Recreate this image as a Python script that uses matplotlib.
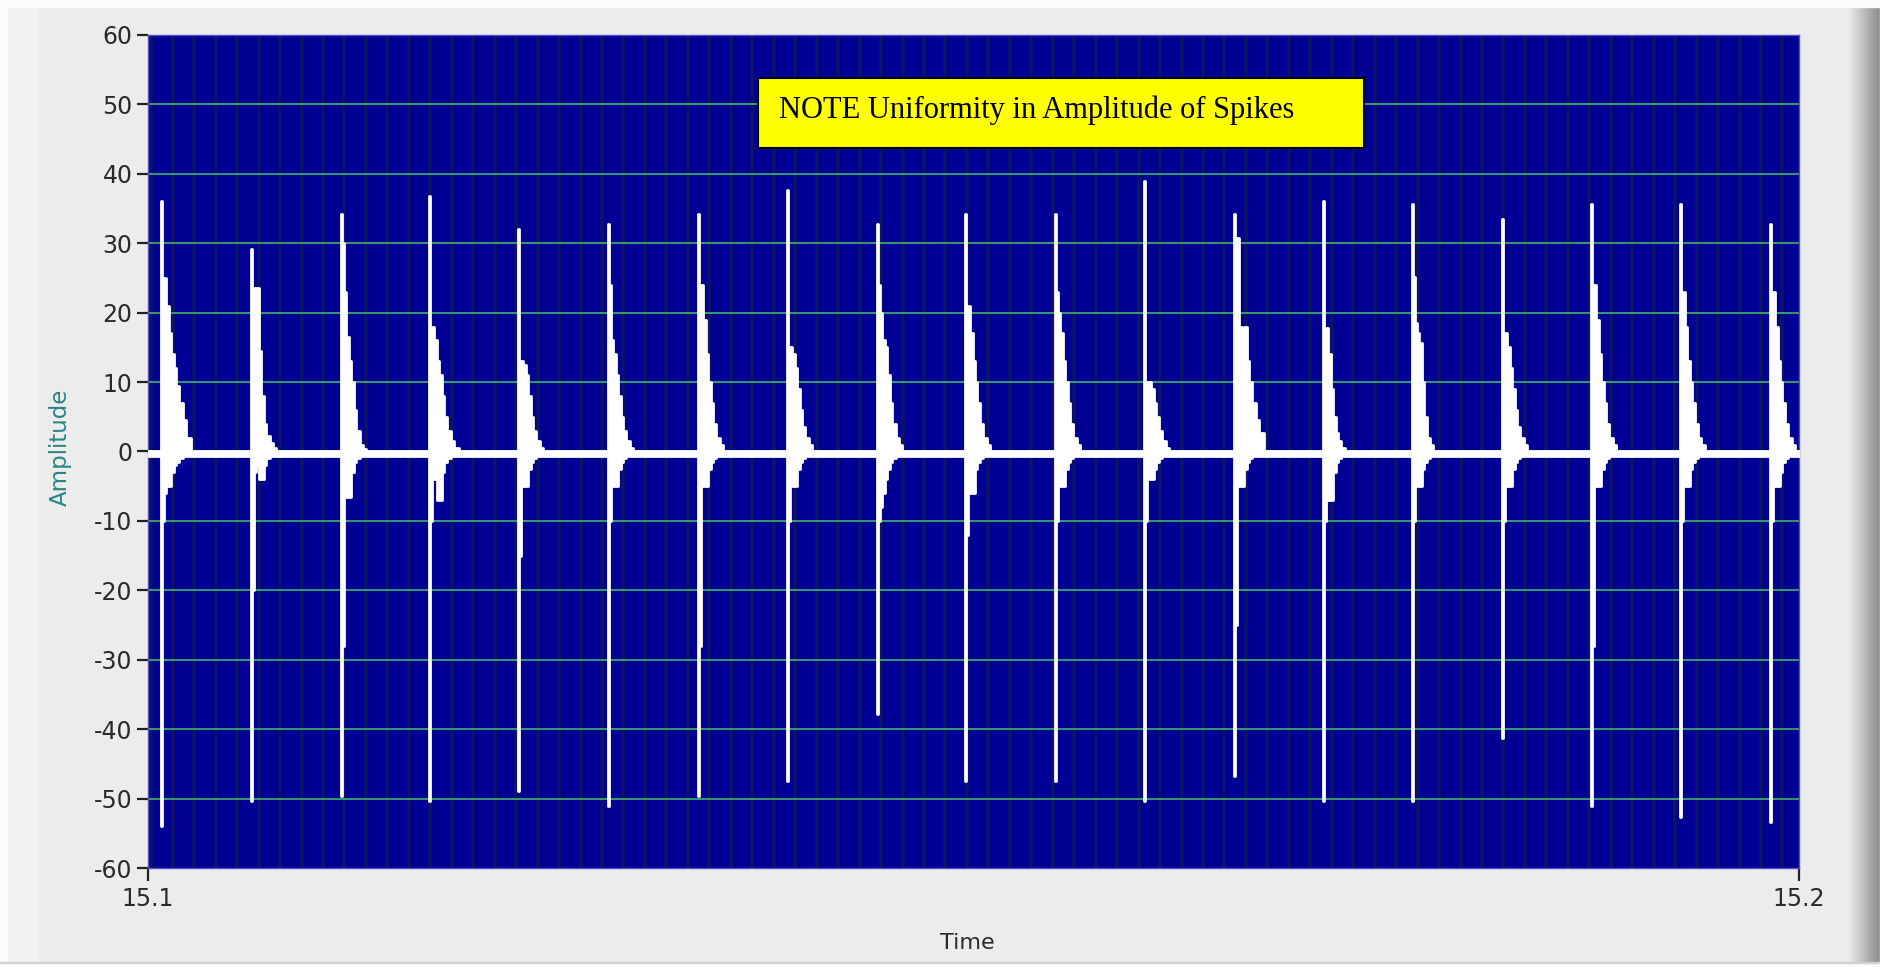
import numpy as np
import matplotlib.pyplot as plt
from matplotlib.patches import Rectangle

plt.rcParams['axes.unicode_minus'] = False

# x axis range (s)
t_start = 15.1
t_end = 15.2

# time of each spike (s)
spike_t = [15.10080, 15.10626, 15.11172, 15.11703, 15.12242, 15.12787, 15.13333,
           15.13872, 15.14418, 15.14949, 15.15495, 15.16033, 15.16579, 15.17118,
           15.17656, 15.18202, 15.18741, 15.19279, 15.19825]

# envelope sample points after each spike (ms)
env_off = [0.0, 0.06, 0.18, 0.3, 0.45, 0.6, 0.75, 0.9, 1.1, 1.3, 1.5, 1.8]

# upper envelope of each burst
env_up = [
    [36.1, 25.0, 25.0, 21.0, 17.0, 14.0, 12.0, 9.5, 7.0, 4.5, 2.0, 0.0],
    [29.2, 23.5, 23.5, 23.5, 14.5, 8.0, 4.0, 2.2, 1.2, 0.5, 0.0, 0.0],
    [34.2, 30.0, 23.0, 16.5, 13.0, 10.0, 6.0, 3.0, 1.0, 0.3, 0.0, 0.0],
    [36.8, 18.0, 18.0, 16.0, 13.0, 11.0, 8.0, 5.0, 3.0, 1.5, 0.5, 0.0],
    [32.1, 13.0, 13.0, 12.5, 11.0, 8.0, 5.0, 3.0, 1.5, 0.5, 0.0, 0.0],
    [32.8, 24.0, 16.0, 14.0, 11.0, 8.0, 5.0, 3.0, 1.5, 0.5, 0.0, 0.0],
    [34.2, 24.0, 24.0, 19.0, 14.0, 10.0, 7.0, 4.0, 2.0, 1.0, 0.0, 0.0],
    [37.7, 15.0, 15.0, 14.0, 12.0, 9.0, 6.0, 3.5, 2.0, 1.0, 0.0, 0.0],
    [32.8, 24.0, 20.0, 16.0, 15.0, 11.0, 7.0, 4.0, 2.0, 1.0, 0.0, 0.0],
    [34.2, 21.0, 21.0, 17.0, 13.0, 10.0, 7.0, 4.0, 2.0, 1.0, 0.0, 0.0],
    [34.2, 23.0, 20.0, 17.0, 13.0, 10.0, 7.0, 4.0, 2.0, 1.0, 0.0, 0.0],
    [39.0, 10.0, 10.0, 10.0, 9.0, 7.0, 5.0, 3.0, 1.5, 0.5, 0.0, 0.0],
    [34.2, 30.7, 30.7, 18.0, 16.0, 18.0, 13.0, 10.0, 7.0, 4.5, 2.7, 0.0],
    [36.1, 17.8, 17.8, 14.0, 9.0, 5.0, 2.6, 1.5, 0.5, 0.0, 0.0, 0.0],
    [35.6, 25.2, 18.5, 17.0, 15.6, 10.0, 5.0, 2.0, 1.0, 0.0, 0.0, 0.0],
    [33.5, 17.0, 17.0, 15.0, 12.0, 9.0, 6.0, 3.5, 2.0, 1.0, 0.0, 0.0],
    [35.6, 24.0, 24.0, 19.0, 14.0, 10.0, 7.0, 4.0, 2.0, 1.0, 0.0, 0.0],
    [35.6, 23.0, 23.0, 18.0, 13.0, 10.0, 7.0, 4.0, 2.0, 1.0, 0.0, 0.0],
    [32.8, 23.0, 23.0, 18.0, 13.0, 10.0, 7.0, 4.0, 2.0, 1.0, 0.0, 0.0],
]

# lower envelope of each burst
env_lo = [
    [-54.0, -10.0, -6.0, -5.0, -5.0, -3.0, -2.0, -1.5, -1.0, -0.7, -0.7, -0.7],
    [-50.3, -20.0, -3.0, -2.0, -4.0, -4.0, -2.0, -1.0, -0.7, -0.7, -0.7, -0.7],
    [-49.6, -28.0, -4.0, -6.5, -6.5, -3.0, -1.5, -1.0, -0.7, -0.7, -0.7, -0.7],
    [-50.3, -10.0, -4.0, -4.0, -7.0, -7.0, -3.0, -1.5, -1.0, -0.7, -0.7, -0.7],
    [-48.9, -15.0, -4.0, -5.0, -5.0, -2.5, -1.5, -1.0, -0.7, -0.7, -0.7, -0.7],
    [-51.0, -10.0, -4.0, -5.0, -5.0, -2.5, -1.5, -1.0, -0.7, -0.7, -0.7, -0.7],
    [-49.6, -28.0, -4.0, -5.0, -5.0, -2.5, -1.5, -1.0, -0.7, -0.7, -0.7, -0.7],
    [-47.5, -10.0, -4.0, -5.0, -5.0, -2.5, -1.5, -1.0, -0.7, -0.7, -0.7, -0.7],
    [-37.8, -10.0, -8.0, -6.0, -4.0, -2.5, -1.5, -1.0, -0.7, -0.7, -0.7, -0.7],
    [-47.5, -12.0, -4.0, -6.0, -6.0, -2.5, -1.5, -1.0, -0.7, -0.7, -0.7, -0.7],
    [-47.5, -10.0, -4.0, -5.0, -5.0, -2.5, -1.5, -1.0, -0.7, -0.7, -0.7, -0.7],
    [-50.3, -10.0, -4.0, -4.0, -4.0, -2.5, -1.5, -1.0, -0.7, -0.7, -0.7, -0.7],
    [-46.8, -25.0, -4.0, -5.0, -5.0, -2.5, -1.5, -1.0, -0.7, -0.7, -0.7, -0.7],
    [-50.3, -10.0, -4.0, -7.0, -7.0, -3.0, -1.5, -1.0, -0.7, -0.7, -0.7, -0.7],
    [-50.3, -10.0, -4.0, -5.0, -5.0, -2.5, -1.5, -1.0, -0.7, -0.7, -0.7, -0.7],
    [-41.3, -10.0, -4.0, -5.0, -5.0, -2.5, -1.5, -1.0, -0.7, -0.7, -0.7, -0.7],
    [-51.0, -28.0, -4.0, -5.0, -5.0, -2.5, -1.5, -1.0, -0.7, -0.7, -0.7, -0.7],
    [-52.7, -10.0, -4.0, -5.0, -5.0, -2.5, -1.5, -1.0, -0.7, -0.7, -0.7, -0.7],
    [-53.4, -10.0, -4.0, -5.0, -5.0, -3.0, -1.5, -1.0, -0.7, -0.7, -0.7, -0.7],
]

# baseline band between bursts
base_hi = 0.0
base_lo = -0.7

y_ticks = [-60, -50, -40, -30, -20, -10, 0, 10, 20, 30, 40, 50, 60]
x_ticks = [15.1, 15.2]
x_ticklabels = ['15.1', '15.2']
note_text = 'NOTE Uniformity in Amplitude of Spikes'

# build the trace as one step outline
tx = [t_start]
ty_up = [base_hi]
ty_lo = [base_lo]
for t0, ups, los in zip(spike_t, env_up, env_lo):
    for off, u, l in zip(env_off, ups, los):
        tx.append(t0 + off / 1000.0)
        ty_up.append(u)
        ty_lo.append(l)
tx.append(t_end + 0.001)
ty_up.append(base_hi)
ty_lo.append(base_lo)

W, H = 1884, 967
fig = plt.figure(figsize=(W / 100, H / 100), dpi=100)
fig.patch.set_facecolor('#ececec')

# panel frame decoration
fig.patches.append(Rectangle((0, 0), 8 / W, 1, transform=fig.transFigure, color='#fbfbfb', zorder=0))
fig.patches.append(Rectangle((8 / W, 0), 30 / W, 1, transform=fig.transFigure, color='#f2f2f2', zorder=0))
fig.patches.append(Rectangle((0, 1 - 7 / H), 1, 7 / H, transform=fig.transFigure, color='#fbfbfb', zorder=0))
fig.patches.append(Rectangle((0, 0), 1, 4 / H, transform=fig.transFigure, color='#fbfbfb', zorder=0))
fig.patches.append(Rectangle((0, 4 / H), 1, 1.5 / H, transform=fig.transFigure, color='#d0d0d0', zorder=0))
sh = fig.add_axes([1848 / W, 0, 32 / W, 1 - 7 / H])
sh.imshow(np.linspace(0.93, 0.55, 64)[None, :], cmap='gray', vmin=0, vmax=1, aspect='auto')
sh.axis('off')
fig.patches.append(Rectangle((1880 / W, 0), 4 / W, 1, transform=fig.transFigure, color='#ffffff', zorder=0))

ax = fig.add_axes([148 / W, 1 - 868 / H, (1799 - 148) / W, (868 - 35) / H])
ax.set_facecolor('#000094')

# grid
minor_x = np.arange(t_start + 0.0002, t_end, 0.0013)
ax.set_xticks(minor_x, minor=True)
ax.grid(True, axis='x', which='minor', color='#0d1366', lw=2.6, zorder=1)
for yv in y_ticks[1:-1]:
    ax.axhline(yv, color='#3aa86a', lw=1.3, zorder=2)

ax.fill_between(tx, ty_lo, ty_up, step='post', facecolor='white', edgecolor='white',
                lw=2.0, zorder=3)

ax.set_xlim(t_start, t_end)
ax.set_ylim(-60, 60)
ax.set_yticks(y_ticks)
ax.set_xticks(x_ticks)
ax.set_xticklabels(x_ticklabels)
ax.tick_params(axis='y', which='major', direction='out', length=8, width=1.6, pad=3,
               color='#222222', labelcolor='#2a2a2a', labelsize=17)
ax.tick_params(axis='x', which='major', direction='out', length=9, width=1.6, pad=5,
               color='#222222', labelcolor='#2a2a2a', labelsize=17)
ax.tick_params(axis='x', which='minor', length=0)
for s in ax.spines.values():
    s.set_color('#5050c8')
    s.set_linewidth(1.0)

fig.text(967 / W, 1 - 943 / H, 'Time', ha='center', va='center', fontsize=16, color='#2a2a2a')
fig.text(60 / W, 1 - 447 / H, 'Amplitude', ha='center', va='center', rotation=90,
         fontsize=16.5, color='#2a8585')

# yellow note box
bx0, bx1, by0, by1 = 758, 1364, 78, 148
ax.add_patch(Rectangle(((bx0 - 148) / 1651, (868 - by1) / 833), (bx1 - bx0) / 1651, (by1 - by0) / 833,
                       transform=ax.transAxes, facecolor='#ffff00', edgecolor='black', lw=1.5, zorder=5))
ax.text((779 - 148) / 1651, (868 - 110) / 833, note_text, transform=ax.transAxes,
        ha='left', va='center', fontsize=22, family='Liberation Serif', color='black', zorder=6)

fig.savefig('out.png', dpi=100, facecolor=fig.get_facecolor())
